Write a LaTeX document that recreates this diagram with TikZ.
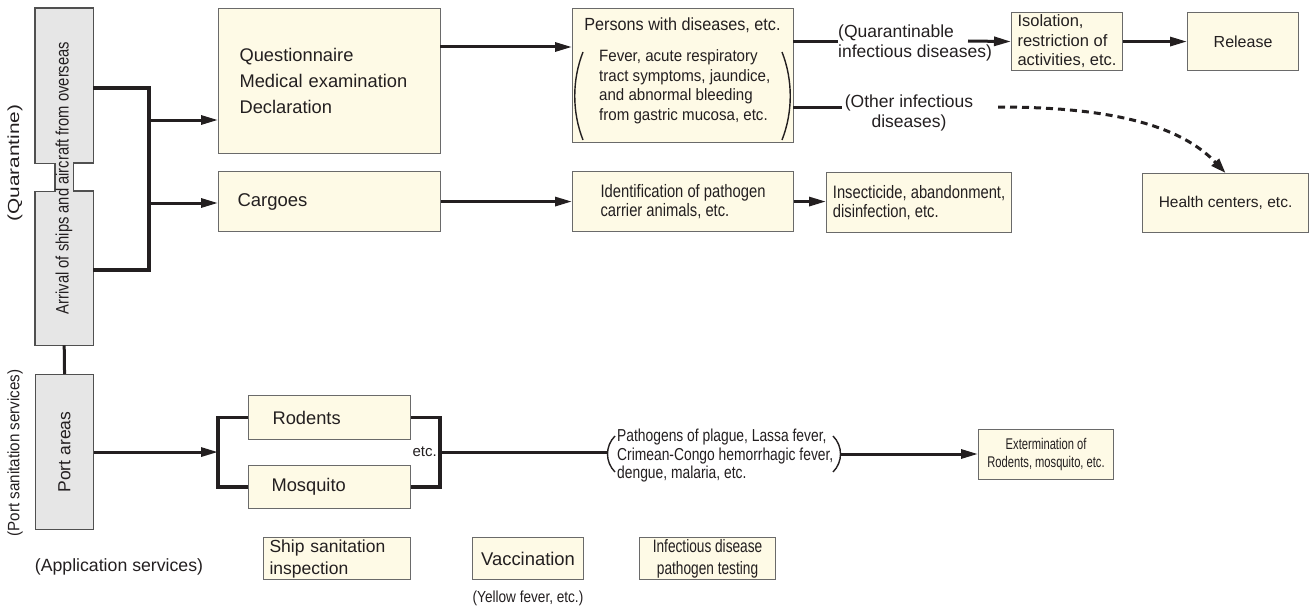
\documentclass[tikz,border=0pt]{standalone}
\usepackage{fontspec}
\usepackage{graphicx}
\setmainfont{Liberation Sans}
\newfontfamily\stSeven[FakeStretch=0.72]{Liberation Sans}
\newfontfamily\stSix[FakeStretch=0.76]{Liberation Sans}
\newfontfamily\stA[FakeStretch=0.80]{Liberation Sans}
\newfontfamily\stC[FakeStretch=0.82]{Liberation Sans}
\newfontfamily\stB[FakeStretch=0.85]{Liberation Sans}
\newfontfamily\stD[FakeStretch=0.92]{Liberation Sans}
\newfontfamily\stE[FakeStretch=1.30]{Liberation Sans}
\usetikzlibrary{arrows.meta}
\definecolor{cream}{HTML}{FEFAE6}
\definecolor{greyfill}{HTML}{E6E6E6}
\definecolor{edge}{HTML}{6A6A6A}
\definecolor{gedge}{HTML}{505050}
\definecolor{ink}{HTML}{231F20}
\newcommand{\fs}[2]{\fontsize{#1}{#2}\selectfont}
\begin{document}
\begin{tikzpicture}[x=1pt,y=-1pt,
  box/.style={draw=edge, fill=cream, line width=1.1pt, inner sep=0pt, anchor=north west, text=ink},
  gnode/.style={draw=gedge, fill=greyfill, line width=1.1pt, inner sep=0pt, anchor=north west, text=ink},
  gshape/.style={draw=gedge, fill=greyfill, line width=1.1pt},
  conn/.style={draw=ink, line width=3pt},
  arr/.style={conn, -{Triangle[length=17pt,width=9pt]}},
  brk/.style={draw=ink, line width=3.4pt, line join=miter},
  dotarr/.style={draw=ink, line width=3pt, dash pattern=on 7pt off 5pt, -{Triangle[length=15pt,width=10pt]}},
  paren/.style={draw=ink, line width=1.4pt},
  lbl/.style={inner sep=0pt, text=ink}]
\useasboundingbox (0,0) rectangle (1310,610);

% ---- left column ----
\node[minimum width=58pt, minimum height=337pt, inner sep=0pt, anchor=north west] (arrivalbox) at (35,8) {};
\draw[gshape] (arrivalbox.north west) -- (arrivalbox.north east) -- ++(0,155) -- ++(-20,0) -- ++(0,28) -- ++(20,0)
  -- (arrivalbox.south east) -- (arrivalbox.south west) -- ++(0,-154) -- ++(20,0) -- ++(0,-28) -- ++(-20,0) -- cycle;
\node[lbl, rotate=90, font=\stC\fs{18}{20}] (arrival) at (64,178) {Arrival of ships and aircraft from overseas};
\node[gnode, minimum width=58pt, minimum height=155pt, font=\fs{17.5}{20}] (port) at (35,374) {\rotatebox{90}{Port areas}};

\node[lbl, rotate=90, font=\stE\fs{16}{18}] (quarlbl) at (15,163) {(Quarantine)};
\node[lbl, rotate=90, font=\stD\fs{16.5}{18}] (pslbl) at (15,453) {(Port sanitation services)};
\node[lbl, font=\fs{17.7}{20}] (applbl) at (119,567) {(Application services)};

% ---- quarantine row ----
\node[box, minimum width=222pt, minimum height=145pt, text width=180pt, inner xsep=21pt, align=left, font=\fs{18.3}{26}] (ques) at (218,8) {Questionnaire\\Medical examination\\Declaration};
\node[box, minimum width=222pt, minimum height=60pt, text width=184pt, inner xsep=19pt, align=left, font=\fs{18.5}{22}] (cargo) at (218,171) {Cargoes};

\node[box, minimum width=221pt, minimum height=134pt] (persons) at (572,8) {};
\node[lbl, font=\stD\fs{17.6}{20}] (ptitle) at (682.5,25) {Persons with diseases, etc.};
\node[lbl, anchor=west, align=left, font=\stD\fs{16.4}{19.5}] (pbody) at (599,87) {Fever, acute respiratory\\tract symptoms, jaundice,\\and abnormal bleeding\\from gastric mucosa, etc.};
\draw[paren] (583,52) .. controls (572,80) and (572,112) .. (583,140);
\draw[paren] (782,52) .. controls (793,80) and (793,112) .. (782,140);

\node[box, minimum width=221pt, minimum height=60pt, align=left, font=\stC\fs{18}{18.5}] (ident) at (572,171) {Identification of pathogen\\carrier animals, etc.};
\node[box, minimum width=185pt, minimum height=60pt, align=left, font=\stC\fs{18}{18.5}] (insect) at (826,172) {Insecticide, abandonment,\\disinfection, etc.};

\node[lbl, anchor=west, align=left, font=\fs{17.5}{20}] (quar) at (838,43) {(Quarantinable\\infectious diseases)};
\node[lbl, align=center, font=\fs{17.5}{20}, inner xsep=3pt] (other) at (909,113) {(Other infectious\\diseases)};

\node[box, minimum width=111pt, minimum height=58pt, align=left, font=\fs{16.5}{19.5}] (iso) at (1011,12) {Isolation,\\restriction of\\activities, etc.};
\node[box, minimum width=111pt, minimum height=58pt, font=\fs{16}{19}] (release) at (1187,12) {Release};
\node[box, minimum width=166pt, minimum height=59pt, font=\fs{15.5}{19}] (health) at (1142,173) {Health centers, etc.};

% ---- port sanitation row ----
\node[box, minimum width=162pt, minimum height=44pt, text width=114pt, inner xsep=24pt, align=left, font=\fs{18.3}{22}] (rodents) at (248,395) {Rodents};
\node[box, minimum width=162pt, minimum height=43pt, text width=116pt, inner xsep=23pt, align=left, font=\fs{18.3}{22}] (mosq) at (248,465) {Mosquito};
\node[lbl, anchor=east, font=\fs{15}{18}] (etc) at (437,452) {etc.};
\node[lbl, anchor=west, align=left, font=\stA\fs{17.3}{18.5}] (patho) at (617,456) {Pathogens of plague, Lassa fever,\\Crimean-Congo hemorrhagic fever,\\dengue, malaria, etc.};
\draw[paren] (615,436) .. controls (605,446) and (605,462) .. (615,472);
\draw[paren] (833,436) .. controls (843,446) and (843,462) .. (833,472);
\node[box, minimum width=135pt, minimum height=50pt, align=center, font=\stSeven\fs{15.5}{18}] (exterm) at (978,429) {Extermination of\\Rodents, mosquito, etc.};

% ---- application services ----
\node[box, minimum width=147pt, minimum height=42pt, text width=135pt, inner xsep=6pt, align=left, font=\fs{17.5}{22}] (ship) at (263,537) {Ship sanitation\\inspection};
\node[box, minimum width=111pt, minimum height=42pt, font=\fs{18.4}{22}] (vacc) at (472,537) {Vaccination};
\node[lbl, font=\stB\fs{16}{18}] (yellow) at (528,598) {(Yellow fever, etc.)};
\node[box, minimum width=136pt, minimum height=42pt, align=center, font=\stSix\fs{18}{22}] (infect) at (639,537) {Infectious disease\\pathogen testing};

% ---- connectors ----
\coordinate (a1) at (93,88);
\coordinate (a2) at (93,270);
\coordinate (bt) at (149,88);
\coordinate (bb) at (149,270);
\coordinate (bq) at (149,120);
\coordinate (bc) at (149,203);
\draw[brk] (a1) -- (bt) -- (bb) -- (a2);
\draw[arr] (bq) -- (bq -| ques.west);
\draw[arr] (bc) -- (bc -| cargo.west);
\draw[conn] (arrivalbox.south) -- (port.north);

\coordinate (q1) at (440,47);
\draw[arr] (q1) -- (q1 -| persons.west);
\draw[arr] (cargo.east) -- (ident.west);
\draw[arr] (ident.east) -- (ident.east -| insect.west);

\coordinate (p1) at (793,42);
\draw[conn] (p1) -- (p1 -| quar.west);
\coordinate (qa) at (968,41);
\draw[arr] (qa) -- (iso.west);
\draw[arr] (iso.east) -- (release.west);
\coordinate (p2) at (793,107);
\draw[conn] (p2) -- (p2 -| other.west);
\coordinate (o1) at (998,107);
\draw[dotarr] (o1) .. controls (1110,107) and (1180,125) .. (health.north);

\coordinate (lb) at (218,452);
\coordinate (rb) at (440,452);
\draw[arr] (port.east) -- (port.east -| lb);
\draw[brk] (rodents.west) -| (lb) |- (mosq.west);
\draw[brk] (rodents.east) -| (rb) |- (mosq.east);
\coordinate (pl) at (607,452);
\draw[conn] (rb) -- (pl);
\coordinate (pr) at (840,454);
\draw[arr] (pr) -- (pr -| exterm.west);
\end{tikzpicture}
\end{document}
